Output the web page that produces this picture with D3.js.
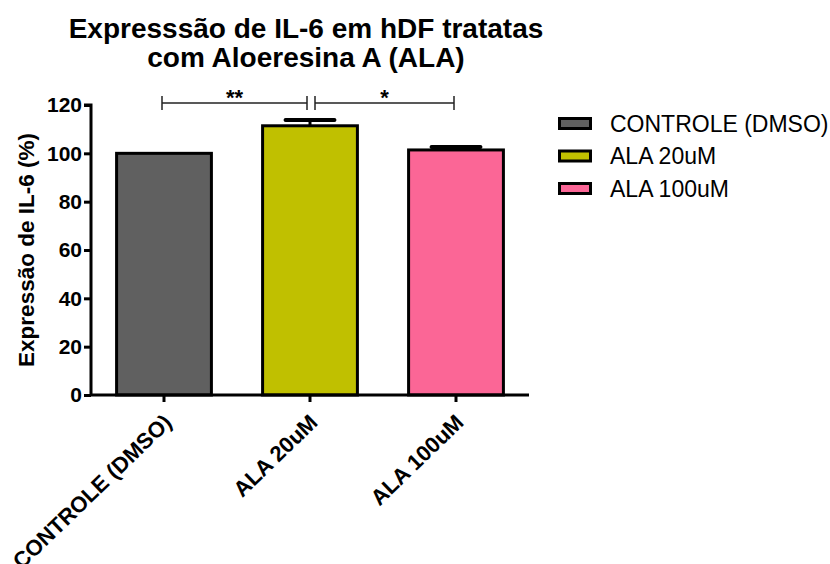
<!DOCTYPE html>
<html>
<head>
<meta charset="utf-8">
<script src="https://cdn.jsdelivr.net/npm/d3@7"></script>
<style>
  body { margin: 0; background: #fff; }
  text { font-family: "Liberation Sans", Arial, sans-serif; }
</style>
</head>
<body>
<div id="chart"></div>
<script>
// data
const groups = ["CONTROLE (DMSO)", "ALA 20uM", "ALA 100uM"];
const means = [100, 111.4, 101.4];
const sems = [0, 2.4, 1.2];
const colors = ["#606060", "#c0c000", "#fb6696"];
const yTicks = [0, 20, 40, 60, 80, 100, 120];
const brackets = [
  { from: 0, to: 1, label: "**" },
  { from: 1, to: 2, label: "*" }
];

const width = 830, height = 564;
const margin = { top: 105, left: 91, bottom: 169 };

const svg = d3.select("#chart").append("svg")
  .attr("width", width)
  .attr("height", height);

const x = d3.scaleBand()
  .domain(groups)
  .range([margin.left, margin.left + 438])
  .paddingInner(0.33)
  .paddingOuter(0.165);

const y = d3.scaleLinear()
  .domain([0, 120])
  .range([height - margin.bottom, margin.top]);

// title
svg.append("text")
  .attr("x", 306).attr("y", 38)
  .attr("text-anchor", "middle")
  .attr("font-size", 28).attr("font-weight", "bold")
  .text("Expresssão de IL-6 em hDF tratatas");
svg.append("text")
  .attr("x", 306).attr("y", 67)
  .attr("text-anchor", "middle")
  .attr("font-size", 28).attr("font-weight", "bold")
  .text("com Aloeresina A (ALA)");

// bars
svg.selectAll(".bar")
  .data(groups)
  .join("rect")
  .attr("class", "bar")
  .attr("x", d => x(d) + 1.5)
  .attr("width", x.bandwidth() - 3)
  .attr("y", (d, i) => y(means[i]))
  .attr("height", (d, i) => y(0) - y(means[i]))
  .attr("fill", (d, i) => colors[i])
  .attr("stroke", "#000")
  .attr("stroke-width", 3);

// error bars (upper only)
groups.forEach((g, i) => {
  if (!sems[i]) return;
  const cx = x(g) + x.bandwidth() / 2;
  const top = y(means[i] + sems[i]);
  svg.append("line")
    .attr("x1", cx).attr("x2", cx)
    .attr("y1", y(means[i])).attr("y2", top)
    .attr("stroke", "#000").attr("stroke-width", 3);
  svg.append("line")
    .attr("x1", cx - x.bandwidth() / 4).attr("x2", cx + x.bandwidth() / 4)
    .attr("y1", top).attr("y2", top)
    .attr("stroke", "#000").attr("stroke-width", 4)
    .attr("stroke-linecap", "round");
});

// axes
const yAxis = svg.append("g")
  .attr("transform", `translate(${margin.left},0)`)
  .call(d3.axisLeft(y).tickValues(yTicks).tickSize(7).tickPadding(2));
const xAxis = svg.append("g")
  .attr("transform", `translate(0,${y(0)})`)
  .call(d3.axisBottom(x).tickSize(7).tickSizeOuter(0));

[yAxis, xAxis].forEach(ax => {
  ax.select(".domain").attr("stroke-width", 3);
  ax.selectAll(".tick line").attr("stroke-width", 3);
});
yAxis.select(".domain").attr("d", `M-7,${y(120)}H0V${y(0)}`);
yAxis.selectAll(".tick text")
  .attr("font-size", 21).attr("font-weight", "bold")
  .attr("font-family", "Liberation Sans, Arial, sans-serif")
  .attr("fill", "#000");
xAxis.select(".domain").attr("d", `M${margin.left},0H${margin.left + 438}`);
xAxis.selectAll(".tick text")
  .attr("font-size", 22).attr("font-weight", "bold")
  .attr("font-family", "Liberation Sans, Arial, sans-serif")
  .attr("fill", "#000")
  .attr("text-anchor", "end")
  .attr("y", 0).attr("dy", 0)
  .attr("transform", "translate(9,29) rotate(-44)");

// y label
svg.append("text")
  .attr("transform", `translate(34,${(y(0) + y(120)) / 2}) rotate(-90)`)
  .attr("text-anchor", "middle")
  .attr("font-size", 22.5).attr("font-weight", "bold")
  .text("Expressão de IL-6 (%)");

// significance brackets
const by = 103;
brackets.forEach((b, k) => {
  const x1 = x(groups[b.from]) + x.bandwidth() / 2 + (k === 1 ? 5 : -2);
  const x2 = x(groups[b.to]) + x.bandwidth() / 2 + (k === 0 ? -3 : -2);
  svg.append("line")
    .attr("x1", x1).attr("x2", x2).attr("y1", by).attr("y2", by)
    .attr("stroke", "#222").attr("stroke-width", 1.5);
  [x1, x2].forEach(xx => {
    svg.append("line")
      .attr("x1", xx).attr("x2", xx).attr("y1", by - 7).attr("y2", by + 7)
      .attr("stroke", "#222").attr("stroke-width", 1.5);
  });
  svg.append("text")
    .attr("x", (x1 + x2) / 2).attr("y", by + 2)
    .attr("text-anchor", "middle")
    .attr("font-size", 22).attr("font-weight", "bold")
    .text(b.label);
});

// legend
const legend = svg.append("g").attr("transform", "translate(558,117)");
groups.forEach((g, i) => {
  const row = legend.append("g").attr("transform", `translate(0,${i * 32.5})`);
  row.append("rect")
    .attr("x", 1.5).attr("y", 1.5)
    .attr("width", 31).attr("height", 10)
    .attr("fill", colors[i])
    .attr("stroke", "#000").attr("stroke-width", 3);
  row.append("text")
    .attr("x", 52).attr("y", 14.5)
    .attr("font-size", 23)
    .text(g);
});
</script>
</body>
</html>
